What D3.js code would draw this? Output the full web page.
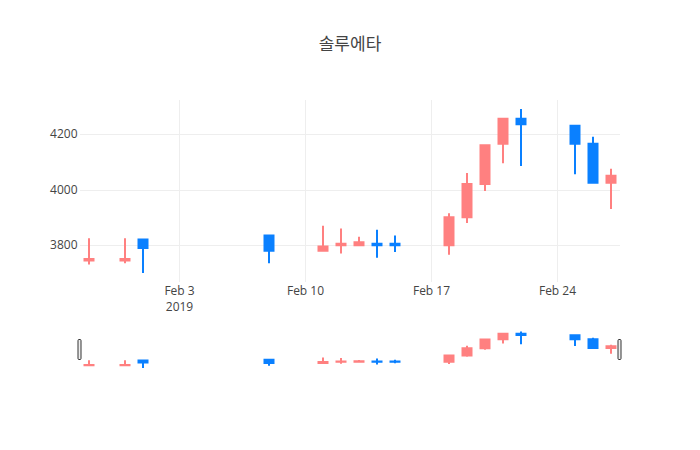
<!DOCTYPE html>
<html>
<head>
<meta charset="utf-8">
<script src="https://cdn.jsdelivr.net/npm/d3@7"></script>
<style>
  body { margin: 0; background: #fff; }
  text { font-family: "Open Sans", "Noto Sans CJK KR", verdana, arial, sans-serif; }
</style>
</head>
<body>
<div id="chart"></div>
<script>
// Podatki (OHLC) za delnico
const dates = ["2019-01-29", "2019-01-31", "2019-02-01", "2019-02-08", "2019-02-11",
               "2019-02-12", "2019-02-13", "2019-02-14", "2019-02-15", "2019-02-18",
               "2019-02-19", "2019-02-20", "2019-02-21", "2019-02-22", "2019-02-25",
               "2019-02-26", "2019-02-27"];
const open  = [3745, 3745, 3820, 3835, 3780, 3800, 3800, 3805, 3805, 3800, 3900, 4020, 4165, 4255, 4230, 4165, 4025];
const high  = [3825, 3825, 3820, 3835, 3870, 3860, 3830, 3855, 3835, 3915, 4060, 4160, 4255, 4290, 4230, 4190, 4075];
const low   = [3730, 3735, 3700, 3735, 3780, 3770, 3800, 3755, 3775, 3765, 3880, 3995, 4095, 4085, 4055, 4025, 3930];
const close = [3750, 3750, 3790, 3780, 3795, 3805, 3810, 3800, 3800, 3900, 4020, 4160, 4255, 4235, 4165, 4025, 4050];

const xTickDates = ["2019-02-03", "2019-02-10", "2019-02-17", "2019-02-24"];
const yTicks = [3800, 4000, 4200];

const title = "솔루에타";

const width = 700;
const height = 450;
const margin = { left: 80, right: 80, top: 100 };
const mainBottom = 282;
const slider = { top: 329.5, bottom: 370 };

const incColor = "#ff8080";
const decColor = "#0a80ff";

const parse = d3.timeParse("%Y-%m-%d");
const data = dates.map((d, i) => ({
  date: parse(d), o: open[i], h: high[i], l: low[i], c: close[i]
}));

const svg = d3.select("#chart")
  .append("svg")
  .attr("width", width)
  .attr("height", height);

// x lestvica s pol dneva roba na vsaki strani
const halfDay = 12 * 3600 * 1000;
const xScale = d3.scaleTime()
  .domain([new Date(data[0].date - halfDay), new Date(+data[data.length - 1].date + halfDay)])
  .range([margin.left, width - margin.right]);

// y lestvica z 5% roba
const yMin = d3.min(low), yMax = d3.max(high);
const pad = (yMax - yMin) / 0.9 * 0.05;
const yDomain = [yMin - pad, yMax + pad];

const yScale = d3.scaleLinear().domain(yDomain).range([mainBottom, margin.top]);
const ySlider = d3.scaleLinear().domain(yDomain).range([slider.bottom, slider.top]);

// mreža
const grid = svg.append("g");
grid.selectAll(".vgrid")
  .data(xTickDates.map(parse))
  .enter().append("line")
  .attr("x1", d => Math.round(xScale(d)) + 0.5)
  .attr("x2", d => Math.round(xScale(d)) + 0.5)
  .attr("y1", margin.top)
  .attr("y2", mainBottom)
  .attr("stroke", "#eee");

grid.selectAll(".hgrid")
  .data(yTicks)
  .enter().append("line")
  .attr("x1", margin.left)
  .attr("x2", width - margin.right)
  .attr("y1", d => Math.round(yScale(d)) + 0.5)
  .attr("y2", d => Math.round(yScale(d)) + 0.5)
  .attr("stroke", "#eee");

// x os
const xAxis = svg.append("g")
  .attr("transform", `translate(0,${mainBottom})`)
  .call(d3.axisBottom(xScale)
    .tickValues(xTickDates.map(parse))
    .tickFormat(d3.timeFormat("%b %-d"))
    .tickSize(0)
    .tickPadding(13));
xAxis.select(".domain").remove();
xAxis.selectAll("text")
  .attr("fill", "#444")
  .attr("font-size", 12)
  .attr("dy", 0)
  .attr("y", 13);
xAxis.select(".tick text")
  .append("tspan")
  .attr("x", 0)
  .attr("dy", 15.6)
  .text("2019");

// y os
const yAxis = svg.append("g")
  .attr("transform", `translate(${margin.left},0)`)
  .call(d3.axisLeft(yScale)
    .tickValues(yTicks)
    .tickFormat(d3.format("d"))
    .tickSize(0)
    .tickPadding(2.5));
yAxis.select(".domain").remove();
yAxis.selectAll("text")
  .attr("fill", "#444")
  .attr("font-size", 12);

// sveče
function candlePath(d, y) {
  const xc = xScale(d.date);
  const bw = (xScale(d3.timeDay.offset(d.date, 1)) - xc) * 0.25;
  const top = y(Math.max(d.o, d.c));
  const bot = y(Math.min(d.o, d.c));
  return `M${xc - bw},${y(d.o)}V${y(d.c)}H${xc + bw}V${y(d.o)}Z` +
         `M${xc},${y(d.l)}V${bot}M${xc},${y(d.h)}V${top}`;
}

function drawCandles(g, y) {
  g.selectAll("path")
    .data(data)
    .enter().append("path")
    .attr("d", d => candlePath(d, y))
    .attr("fill", d => d.c >= d.o ? incColor : decColor)
    .attr("stroke", d => d.c >= d.o ? incColor : decColor)
    .attr("stroke-width", 2);
}

drawCandles(svg.append("g"), yScale);

// drsnik obsega
const sliderG = svg.append("g");
sliderG.append("rect")
  .attr("x", margin.left)
  .attr("y", slider.top)
  .attr("width", width - margin.left - margin.right)
  .attr("height", slider.bottom - slider.top)
  .attr("fill", "#fff");
drawCandles(sliderG.append("g"), ySlider);

const sh = slider.bottom - slider.top;
[xScale.range()[0], xScale.range()[1]].forEach(xv => {
  sliderG.append("rect")
    .attr("x", xv - 2)
    .attr("y", slider.top + Math.round(sh / 4))
    .attr("width", 3)
    .attr("height", Math.round(sh / 2))
    .attr("rx", 1)
    .attr("fill", "#eee")
    .attr("stroke", "#333")
    .attr("stroke-width", 1);
});

// naslov
svg.append("text")
  .attr("x", width / 2)
  .attr("y", 50)
  .attr("text-anchor", "middle")
  .attr("fill", "#444")
  .attr("font-size", 17)
  .text(title);
</script>
</body>
</html>
